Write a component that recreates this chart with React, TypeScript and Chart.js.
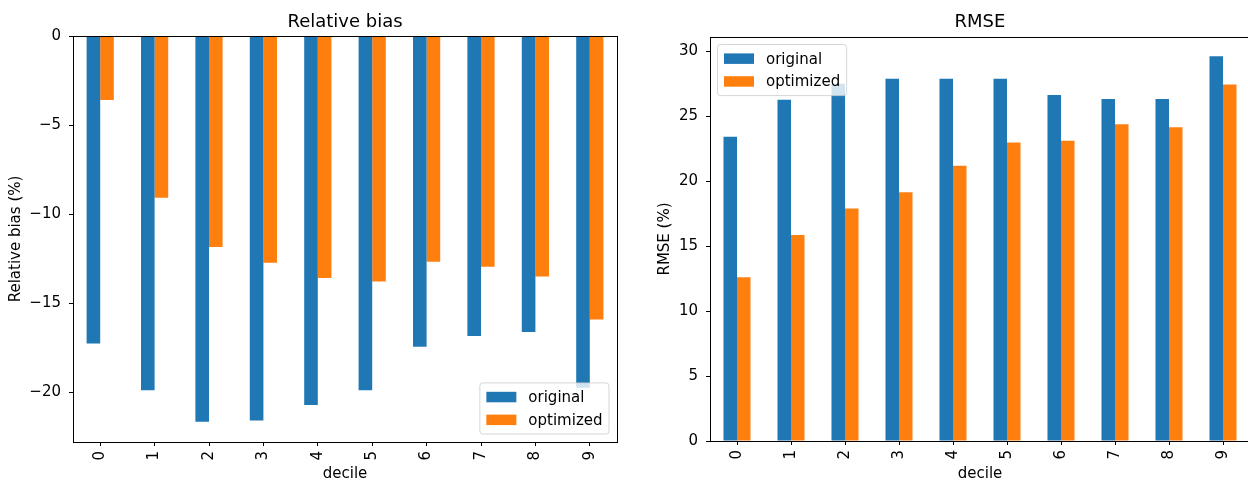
import React, { useEffect, useRef } from 'react';
import { Chart, registerables } from 'chart.js';

Chart.register(...registerables);

const FONT = '"DejaVu Sans", sans-serif';
const BLUE = '#1f77b4';
const ORANGE = '#ff7f0e';

const deciles = ['0', '1', '2', '3', '4', '5', '6', '7', '8', '9'];
const seriesNames = ['original', 'optimized'];

const biasOriginal = [-17.26, -19.88, -21.64, -21.58, -20.71, -19.88, -17.43, -16.83, -16.61, -19.73];
const biasOptimized = [-3.59, -9.07, -11.84, -12.72, -13.58, -13.77, -12.66, -12.94, -13.49, -15.9];

const rmseOriginal = [23.42, 26.27, 27.5, 27.89, 27.89, 27.89, 26.63, 26.32, 26.32, 29.61];
const rmseOptimized = [12.6, 15.86, 17.89, 19.15, 21.18, 22.98, 23.11, 24.39, 24.16, 27.45];

const biasRange = [-22.78, 0];
const rmseRange = [0, 31.1];

const decor = {
  id: 'mplDecor',
  afterDatasetsDraw(chart: any, _args: any, opts: any) {
    const { ctx, chartArea: ca } = chart;
    ctx.save();
    ctx.strokeStyle = '#000';
    ctx.lineWidth = 1;
    const l = Math.round(ca.left) + 0.5;
    const t = Math.round(ca.top) + 0.5;
    const r = Math.round(ca.right) + 0.5;
    const b = Math.round(ca.bottom) + 0.5;
    ctx.strokeRect(l, t, r - l, b - t);

    ctx.font = `15px ${FONT}`;
    const labels = chart.data.datasets.map((d: any) => d.label);
    const colors = chart.data.datasets.map((d: any) => d.backgroundColor);
    const textW = Math.max(...labels.map((s: string) => ctx.measureText(s).width));
    const pad = 6.5, handleW = 30, handleH = 10.5, gap = 12, rowH = 15.3, spacing = 7.5;
    const boxW = pad * 2 + handleW + gap + textW;
    const boxH = pad * 2 + rowH * labels.length + spacing * (labels.length - 1);
    let bx: number, by: number;
    if (opts.legend === 'lower right') {
      bx = ca.right - 8 - boxW;
      by = ca.bottom - 8 - boxH;
    } else {
      bx = ca.left + 7.5;
      by = ca.top + 7.5;
    }
    ctx.beginPath();
    if ((ctx as any).roundRect) (ctx as any).roundRect(bx, by, boxW, boxH, 3);
    else ctx.rect(bx, by, boxW, boxH);
    ctx.fillStyle = 'rgba(255,255,255,0.8)';
    ctx.fill();
    ctx.strokeStyle = 'rgba(204,204,204,0.8)';
    ctx.lineWidth = 1;
    ctx.stroke();
    ctx.textBaseline = 'middle';
    ctx.textAlign = 'left';
    labels.forEach((lab: string, i: number) => {
      const cy = by + pad + rowH / 2 + i * (rowH + spacing);
      ctx.fillStyle = colors[i];
      ctx.fillRect(bx + pad, cy - handleH / 2, handleW, handleH);
      ctx.fillStyle = '#000';
      ctx.fillText(lab, bx + pad + handleW + gap, cy + 1);
    });
    ctx.restore();
  },
  afterDraw(chart: any, _args: any, opts: any) {
    const { ctx, chartArea: ca } = chart;
    ctx.save();
    ctx.font = `18px ${FONT}`;
    ctx.fillStyle = '#000';
    ctx.textAlign = 'center';
    ctx.textBaseline = 'alphabetic';
    ctx.fillText(opts.title, (ca.left + ca.right) / 2, 27);
    ctx.restore();
  },
};

function fmt(v: number) {
  return v < 0 ? '\u2212' + Math.abs(v) : String(v);
}

function makeConfig(
  orig: number[],
  opt: number[],
  range: number[],
  yLabel: string,
  yWidth: number,
  xHeight: number,
  padding: any,
  title: string,
  legend: string
): any {
  return {
    type: 'bar',
    data: {
      labels: deciles,
      datasets: [
        { label: seriesNames[0], data: orig, backgroundColor: BLUE, borderWidth: 0, categoryPercentage: 0.5, barPercentage: 1.0 },
        { label: seriesNames[1], data: opt, backgroundColor: ORANGE, borderWidth: 0, categoryPercentage: 0.5, barPercentage: 1.0 },
      ],
    },
    options: {
      responsive: false,
      animation: false,
      devicePixelRatio: 1,
      layout: { padding },
      plugins: {
        legend: { display: false },
        title: { display: false },
        tooltip: { enabled: false },
        mplDecor: { title, legend },
      },
      scales: {
        x: {
          offset: true,
          grid: { display: true, offset: false, drawOnChartArea: false, drawTicks: true, tickLength: 4, color: '#000', lineWidth: 1 },
          border: { display: false },
          ticks: { color: '#000', font: { family: FONT, size: 15 }, minRotation: 90, maxRotation: 90, autoSkip: false, padding: 5 },
          title: { display: true, text: 'decile', color: '#000', font: { family: FONT, size: 15 }, padding: { top: 0, bottom: -2 } },
          afterFit: (s: any) => { s.height = xHeight; },
        },
        y: {
          min: range[0],
          max: range[1],
          grid: { display: true, drawOnChartArea: false, drawTicks: true, tickLength: 4, color: '#000', lineWidth: 1 },
          border: { display: false },
          ticks: { stepSize: 5, includeBounds: false, color: '#000', font: { family: FONT, size: 15 }, padding: 8, callback: (v: any) => fmt(Number(v)) },
          title: { display: true, text: yLabel, color: '#000', font: { family: FONT, size: 15 }, padding: { top: 7, bottom: 0 } },
          afterFit: (s: any) => { s.width = yWidth; },
        },
      },
    },
    plugins: [decor],
  };
}

export default function App() {
  const leftRef = useRef<HTMLCanvasElement>(null);
  const rightRef = useRef<HTMLCanvasElement>(null);

  useEffect(() => {
    const c1 = new Chart(
      leftRef.current as HTMLCanvasElement,
      makeConfig(biasOriginal, biasOptimized, biasRange, 'Relative bias (%)', 73, 39, { left: 0, top: 36, right: 13, bottom: 0 }, 'Relative bias', 'lower right')
    );
    const c2 = new Chart(
      rightRef.current as HTMLCanvasElement,
      makeConfig(rmseOriginal, rmseOptimized, rmseRange, 'RMSE (%)', 61, 40, { left: 0, top: 37, right: 39, bottom: 0 }, 'RMSE', 'upper left')
    );
    return () => {
      c1.destroy();
      c2.destroy();
    };
  }, []);

  return (
    <div style={{ position: 'fixed', left: 0, top: 0, width: 1248, height: 481, overflow: 'hidden', background: '#fff' }}>
      <canvas ref={leftRef} width={630} height={481} style={{ position: 'absolute', left: 0, top: 0, width: 630, height: 481 }} />
      <canvas ref={rightRef} width={640} height={481} style={{ position: 'absolute', left: 649, top: 0, width: 640, height: 481 }} />
    </div>
  );
}
